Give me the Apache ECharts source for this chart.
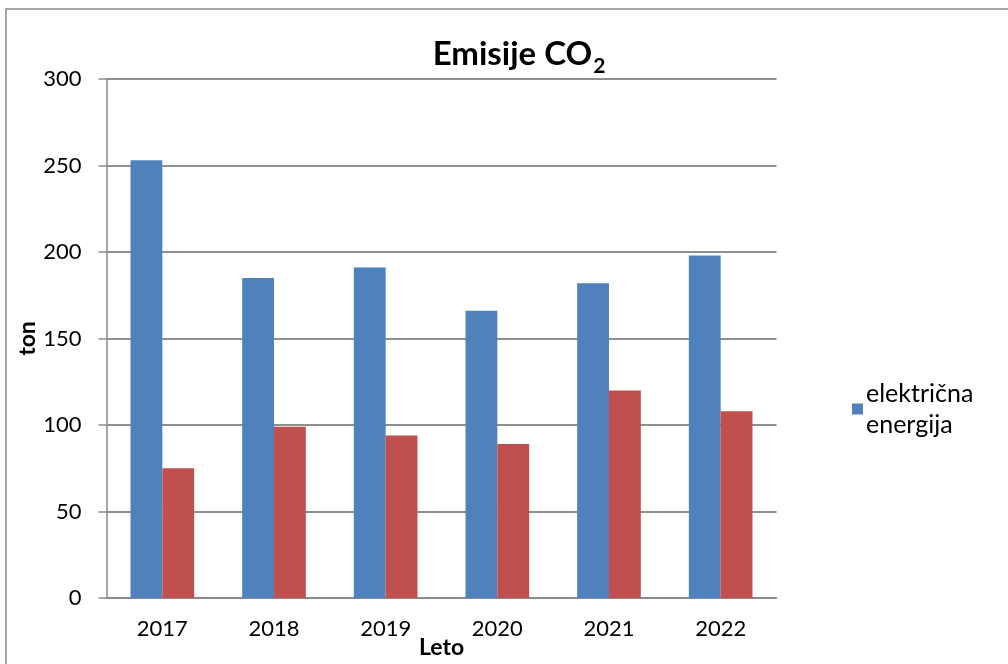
<!DOCTYPE html>
<html>
<head>
<meta charset="utf-8">
<script src="https://cdn.jsdelivr.net/npm/echarts@6/dist/echarts.min.js"></script>
<style>
  html, body { margin: 0; padding: 0; background: #ffffff; }
  #chart { width: 1008px; height: 664px; }
</style>
</head>
<body>
<div id="chart"></div>
<script>
// Emisije CO2 po letih (ton)
const years = ['2017', '2018', '2019', '2020', '2021', '2022'];
const elektricnaEnergija = [253, 185, 191, 166, 182, 198];
const drugiVir = [75, 99, 94, 89, 120, 108];
const yTicks = { min: 0, max: 300, step: 50 };

const FONT = 'Lato';
const LEGEND_LINE = 31;
const chart = echarts.init(document.getElementById('chart'), null, { renderer: 'canvas' });

chart.setOption({
  backgroundColor: '#ffffff',
  animation: false,
  textStyle: { fontFamily: FONT },
  title: {
    text: '{a|Emisije CO}{s|2}',
    left: 514,
    textAlign: 'center',
    top: 30,
    textStyle: {
      rich: {
        a: { fontFamily: FONT, fontWeight: 'bold', fontSize: 33, color: '#000', lineHeight: 36, verticalAlign: 'bottom' },
        s: { fontFamily: FONT, fontWeight: 'bold', fontSize: 21, color: '#000', lineHeight: 14, verticalAlign: 'bottom', padding: [0, 0, -6, 1] }
      }
    }
  },
  graphic: [{
    type: 'rect',
    silent: true,
    shape: { x: 6, y: 9, width: 1020, height: 680 },
    style: { fill: null, stroke: '#8a8a8a', lineWidth: 1.5 }
  }],
  legend: {
    data: ['električna energija'],
    left: 852,
    // icon centre sits on the first text line
    top: 409 - LEGEND_LINE * 1.5,
    padding: 0,
    orient: 'vertical',
    icon: 'rect',
    itemWidth: 11,
    itemHeight: 11,
    itemGap: 4,
    formatter: () => 'električna\nenergija',
    textStyle: { fontFamily: FONT, fontSize: 25, color: '#000', lineHeight: LEGEND_LINE, padding: [LEGEND_LINE, 0, 0, -2] }
  },
  grid: { left: 106.5, right: 231.5, top: 79, bottom: 64.5, containLabel: false },
  xAxis: {
    type: 'category',
    data: years,
    name: 'Leto',
    nameLocation: 'middle',
    nameGap: 38,
    nameMoveOverlap: false,
    nameTextStyle: { fontFamily: FONT, fontWeight: 'bold', fontSize: 23, color: '#000' },
    axisLine: { show: true, lineStyle: { color: '#8a8a8a', width: 1.5 } },
    axisTick: { show: false },
    axisLabel: { fontFamily: FONT, fontSize: 22, color: '#000', margin: 20 }
  },
  yAxis: {
    type: 'value',
    min: yTicks.min,
    max: yTicks.max,
    interval: yTicks.step,
    name: 'ton',
    nameLocation: 'middle',
    nameRotate: 90,
    nameGap: 67,
    nameMoveOverlap: false,
    nameTextStyle: { fontFamily: FONT, fontWeight: 'bold', fontSize: 23, color: '#000' },
    axisLine: { show: true, lineStyle: { color: '#8a8a8a', width: 1.5 } },
    axisTick: { show: true, length: 8, lineStyle: { color: '#8a8a8a', width: 1.5 } },
    axisLabel: { fontFamily: FONT, fontSize: 22, color: '#000', margin: 25 },
    splitLine: { show: true, lineStyle: { color: '#8f8f8f', width: 2 } }
  },
  series: [
    {
      name: 'električna energija',
      type: 'bar',
      data: elektricnaEnergija,
      barGap: '0%',
      barCategoryGap: '43%',
      itemStyle: { color: '#4F81BD' }
    },
    {
      name: 'drugo',
      type: 'bar',
      data: drugiVir,
      barGap: '0%',
      barCategoryGap: '43%',
      itemStyle: { color: '#C0504D' }
    }
  ]
});
</script>
</body>
</html>
